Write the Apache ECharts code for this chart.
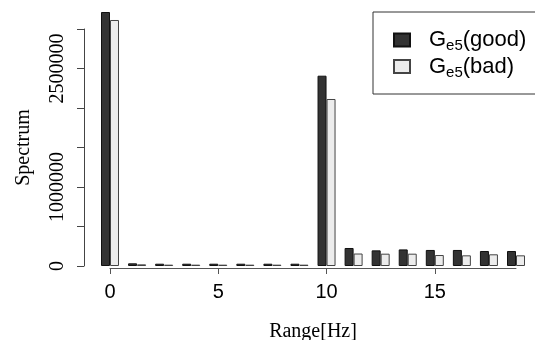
<!DOCTYPE html>
<html style="height: 100%">
<head>
    <meta charset="utf-8">
</head>
<body style="height: 100%; margin: 0; background: #fff">
<div id="container" style="width: 535px; height: 340px"></div>
<script type="text/javascript" src="https://cdn.jsdelivr.net/npm/echarts@6.0.0/dist/echarts.min.js"></script>
<script type="text/javascript">
  // frequency bins [Hz]
  const freqs = [0, 1.25, 2.5, 3.75, 5, 6.25, 7.5, 8.75, 10, 11.25, 12.5, 13.75, 15, 16.25, 17.5, 18.75];
  const goodValues = [3215000, 34000, 29000, 29000, 29000, 29000, 29000, 29000,
    2409000, 228000, 198000, 210000, 203000, 203000, 190000, 190000];
  const badValues = [3114000, 21000, 17000, 17000, 17000, 17000, 17000, 17000,
    2114000, 158000, 156000, 156000, 139000, 135000, 148000, 135000];
  const seriesNames = ['Ge5(good)', 'Ge5(bad)'];
  const legendParts = [['G', 'e5', '(good)'], ['G', 'e5', '(bad)']];
  const yLabelsShown = [0, 1000000, 2500000];

  const serif = 'Liberation Serif';
  const sans = 'Liberation Sans';

  function pairs (values) {
    return freqs.map(function (f, i) { return [f, values[i]]; });
  }

  var dom = document.getElementById('container');
  var myChart = echarts.init(dom);
  var option = {
    animation: false,
    grid: { left: 110, right: 19, top: 29, bottom: 74, outerBoundsMode: 'none', containLabel: false },
    legend: {
      orient: 'vertical',
      left: 373,
      top: 12,
      width: 170,
      padding: [17, 30, 14, 20],
      itemGap: 2,
      itemWidth: 16,
      itemHeight: 13,
      icon: 'rect',
      borderColor: '#333',
      borderWidth: 1,
      borderRadius: 0,
      data: seriesNames,
      formatter: function (name) {
        const p = legendParts[seriesNames.indexOf(name)];
        return '{g|' + p[0] + '}{s|' + p[1] + '}{g|' + p[2] + '}';
      },
      textStyle: {
        padding: [0, 0, 0, 14],
        rich: {
          g: { fontSize: 22, fontFamily: sans, color: '#000' },
          s: { fontSize: 15, fontFamily: sans, color: '#000', padding: [12, 0, 0, 0] }
        }
      }
    },
    xAxis: {
      type: 'value',
      min: 0,
      max: 18.75,
      interval: 5,
      offset: 2,
      name: 'Range[Hz]',
      nameLocation: 'middle',
      nameGap: 54,
      nameTextStyle: { fontFamily: serif, fontSize: 20, color: '#000' },
      axisLine: { show: true, onZero: false, lineStyle: { color: '#555', width: 1 } },
      axisTick: { show: true, length: 6, lineStyle: { color: '#555' } },
      axisLabel: {
        margin: 14,
        fontFamily: sans,
        fontSize: 20,
        color: '#000',
        showMaxLabel: false,
        formatter: function (v) { return v % 5 === 0 ? String(v) : ''; }
      },
      splitLine: { show: false }
    },
    yAxis: {
      type: 'value',
      min: 0,
      max: 3000000,
      interval: 500000,
      offset: 26,
      name: 'Spectrum',
      nameLocation: 'middle',
      nameGap: 50,
      nameTextStyle: { fontFamily: serif, fontSize: 20, color: '#000' },
      axisLine: { show: true, onZero: false, lineStyle: { color: '#444', width: 1 } },
      axisTick: { show: true, length: 7, lineStyle: { color: '#444' } },
      axisLabel: {
        rotate: 90,
        margin: 16,
        fontFamily: serif,
        fontSize: 20,
        color: '#000',
        formatter: function (v) { return yLabelsShown.indexOf(v) >= 0 ? String(v) : ''; }
      },
      splitLine: { show: false }
    },
    series: [
      {
        name: seriesNames[0],
        type: 'bar',
        clip: false,
        barWidth: 9,
        barGap: '0%',
        itemStyle: { color: '#333333', borderColor: '#111', borderWidth: 1 },
        data: pairs(goodValues)
      },
      {
        name: seriesNames[1],
        type: 'bar',
        clip: false,
        barWidth: 9,
        barGap: '0%',
        itemStyle: { color: '#ececec', borderColor: '#444', borderWidth: 1 },
        data: pairs(badValues)
      }
    ]
  };
  myChart.setOption(option);
</script>
</body>
</html>
